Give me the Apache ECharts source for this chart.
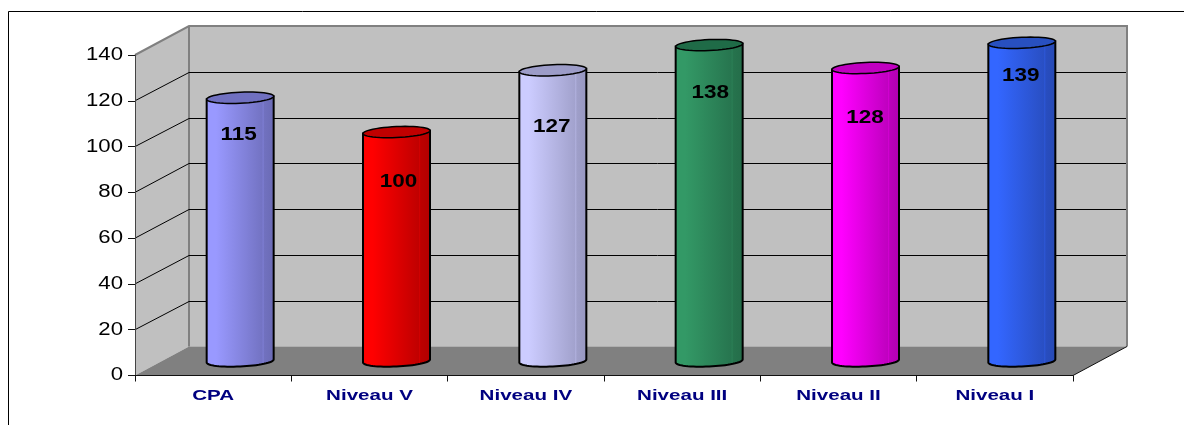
<!DOCTYPE html>
<html>
<head>
<meta charset="utf-8">
<style>html,body{margin:0;padding:0;background:#fff}#c{width:1184px;height:425px}</style>
<script src="https://cdn.jsdelivr.net/npm/echarts@6/dist/echarts.min.js"></script>
</head>
<body>
<div id="c"></div>
<script>
const categories = ['CPA', 'Niveau V', 'Niveau IV', 'Niveau III', 'Niveau II', 'Niveau I'];
const values = [115, 100, 127, 138, 128, 139];
const yTicks = [0, 20, 40, 60, 80, 100, 120, 140];
const barColors = ['#9999FF', '#FF0000', '#CCCCFF', '#339966', '#FF00FF', '#3366FF'];
const barSideColors = ['#6A6AB4', '#B00000', '#9797C0', '#246C49', '#B000B0', '#2649B4'];
const barTopColors = ['#7070C0', '#C00000', '#9C9CC8', '#1F6B47', '#C000C0', '#2850C0'];
const labelDrops = [37, 50, 57, 48, 50, 33];
const labelShifts = [-1.5, 2, -1, 1, -0.5, -1];

const DX = 54, DY = -29, HALF_W = 33.5, TILT = 3, RY = 5.5;
const chart = echarts.init(document.getElementById('c'), null, {renderer: 'canvas'});

function ellipsePts(cx, cy, from, to, n) {
  const pts = [];
  for (let i = 0; i <= n; i++) {
    const t = from + (to - from) * i / n;
    const ex = Math.cos(t), ey = Math.sin(t);
    pts.push([cx + HALF_W * ex, cy + RY * ey - TILT / 2 * ex]);
  }
  return pts;
}

function renderBox(params, api) {
  const cs = params.coordSys;
  const x0 = cs.x, x1 = cs.x + cs.width, yb = cs.y + cs.height, yt = cs.y;
  const grey = {fill: '#C0C0C0'};
  const edge = {stroke: '#808080', lineWidth: 2, fill: null};
  return {type: 'group', silent: true, children: [
    {type: 'polygon', shape: {points: [[x0 + DX, yt + DY], [x1 + DX, yt + DY], [x1 + DX, yb + DY], [x0 + DX, yb + DY]]}, style: grey},
    {type: 'polygon', shape: {points: [[x0, yt], [x0 + DX, yt + DY], [x0 + DX, yb + DY], [x0, yb]]}, style: grey},
    {type: 'polygon', shape: {points: [[x0, yb], [x0 + DX, yb + DY], [x1 + DX, yb + DY], [x1, yb]]}, style: {fill: '#808080'}},
    {type: 'polyline', shape: {points: [[x0, yt], [x0 + DX, yt + DY], [x1 + DX, yt + DY], [x1 + DX, yb + DY]]}, style: edge},
    {type: 'line', shape: {x1: x0 + DX, y1: yt + DY, x2: x0 + DX, y2: yb + DY}, style: edge},
    {type: 'line', shape: {x1: x1, y1: yb, x2: x1 + DX, y2: yb + DY}, style: {stroke: '#111', lineWidth: 1}}
  ]};
}

function renderGrid(params, api) {
  const t = api.value(0);
  const y = api.coord([0, t])[1];
  const cs = params.coordSys;
  const wallY = Math.round(y + DY) + 0.5;
  const children = [{
    type: 'text', x: cs.x - 12, y: y, scaleX: 1.23,
    style: {text: String(t), align: 'right', verticalAlign: 'middle', fill: '#000', font: '18px "Liberation Sans"'}
  }];
  if (t > 0 && t < 140) {
    children.push(
      {type: 'polyline', shape: {points: [[cs.x, y], [cs.x + DX, wallY], [cs.x + cs.width + DX - 1, wallY]]},
       style: {stroke: '#000', lineWidth: 1, fill: null}}
    );
  }
  return {type: 'group', silent: true, children};
}

function renderCategory(params, api) {
  const i = api.value(0);
  const p = api.coord([i, 0]);
  return {type: 'text', silent: true, x: p[0], y: p[1] + 20, scaleX: 1.37,
    style: {text: categories[i], align: 'center', verticalAlign: 'middle', fill: '#000080', font: 'bold 15px "Liberation Sans"'}};
}

function renderBar(params, api) {
  const i = api.value(0);
  const top = api.coord([i, api.value(1)]);
  const base = api.coord([i, 0]);
  const cx = top[0] + DX / 2;
  const ty = top[1] + DY / 2;
  const by = base[1] + DY / 2;
  const body = ellipsePts(cx, by, 0, Math.PI, 32)
    .concat([[cx - HALF_W, ty + TILT / 2]])
    .concat([[cx + HALF_W, ty - TILT / 2]]);
  const c = barColors[i], d = barSideColors[i];
  const mix = t => echarts.color.lerp(t, [c, d]);
  const fill = new echarts.graphic.LinearGradient(0, 0, 1, 0, [
    {offset: 0, color: c}, {offset: 0.15, color: c},
    {offset: 0.82, color: mix(0.8)}, {offset: 0.83, color: mix(0.55)},
    {offset: 0.85, color: mix(0.85)}, {offset: 1, color: d}
  ]);
  return {type: 'group', silent: true, children: [
    {type: 'polygon', shape: {points: body}, style: {fill, stroke: '#000', lineWidth: 2}},
    {type: 'polygon', shape: {points: ellipsePts(cx, ty, 0, Math.PI * 2, 48)}, style: {fill: barTopColors[i], stroke: '#000', lineWidth: 1.5}},
    {type: 'text', x: cx + labelShifts[i], y: ty + labelDrops[i], scaleX: 1.25,
     style: {text: String(api.value(1)), align: 'center', verticalAlign: 'middle', fill: '#000', font: 'bold 18px "Liberation Sans"'}}
  ]};
}

chart.setOption({
  backgroundColor: '#fff',
  animation: false,
  grid: {left: 135, right: 111, top: 55, bottom: 49.5},
  xAxis: {
    type: 'category', data: categories, boundaryGap: true, z: 5,
    axisLine: {lineStyle: {color: '#111', width: 1}},
    axisTick: {show: true, length: 6, alignWithLabel: false, lineStyle: {color: '#111'}},
    axisLabel: {show: false}, splitLine: {show: false}
  },
  yAxis: {
    type: 'value', min: 0, max: 140, interval: 20, z: 5,
    axisLine: {show: true, lineStyle: {color: '#444', width: 1}},
    axisTick: {show: true, length: 7, lineStyle: {color: '#111'}},
    axisLabel: {show: false}, splitLine: {show: false}
  },
  graphic: [
    {type: 'polyline', silent: true, shape: {points: [[8.5, 425], [8.5, 11.5], [1184, 11.5]]}, style: {stroke: '#000', lineWidth: 1, fill: null}}
  ],
  series: [
    {type: 'custom', coordinateSystem: 'cartesian2d', z: 1, clip: false, data: [[0, 0]], renderItem: renderBox},
    {type: 'custom', coordinateSystem: 'cartesian2d', z: 2, clip: false, data: yTicks.map(t => [t]), encode: {x: [], y: 0}, renderItem: renderGrid},
    {type: 'custom', coordinateSystem: 'cartesian2d', z: 3, clip: false, data: values.map((v, i) => [i, v]), renderItem: renderBar},
    {type: 'custom', coordinateSystem: 'cartesian2d', z: 3, clip: false, data: categories.map((c, i) => [i, 0]), renderItem: renderCategory}
  ]
});
</script>
</body>
</html>
